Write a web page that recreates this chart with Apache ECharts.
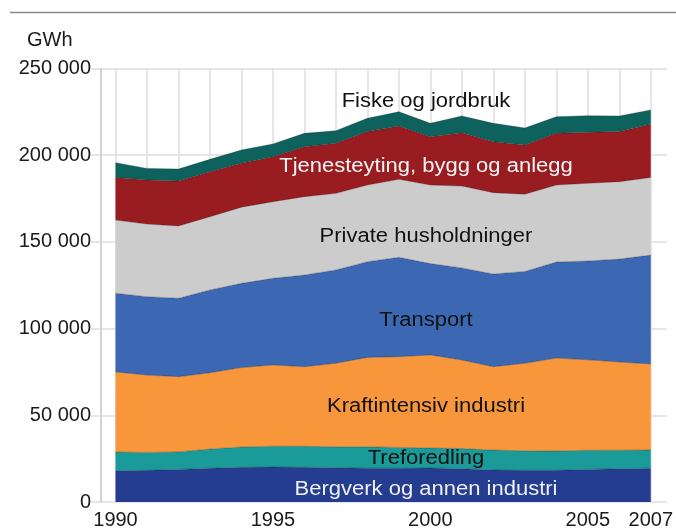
<!DOCTYPE html>
<html>
<head>
<meta charset="utf-8">
<script src="https://cdn.jsdelivr.net/npm/echarts@6/dist/echarts.min.js"></script>
<style>
  html, body { margin: 0; padding: 0; background: #fff; }
  #chart { width: 676px; height: 531px; }
</style>
</head>
<body>
<div id="chart"></div>
<script>
// Energibruk etter sektor, GWh, 1990-2007 (stacked area, bottom series first)
var years = ['1990', '1991', '1992', '1993', '1994', '1995', '1996', '1997', '1998',
    '1999', '2000', '2001', '2002', '2003', '2004', '2005', '2006', '2007'];
var shownYears = ['1990', '1995', '2000', '2005', '2007'];

var bergverk = [18000, 18300, 18800, 19500, 20000, 20200, 20000, 19800, 19500,
    19500, 19600, 19200, 18500, 18300, 18300, 18800, 19200, 19500];
var treforedling = [10800, 10300, 10100, 11000, 11700, 12000, 12100, 12000, 12300,
    12000, 11500, 11600, 11500, 11200, 11100, 11000, 10700, 10500];
var kraftintensiv = [46200, 44600, 43400, 44000, 45800, 46800, 45900, 48200, 51600,
    52300, 53700, 51100, 48000, 50500, 53600, 52200, 50800, 49600];
var transport = [45400, 45200, 45200, 47800, 48600, 50000, 52900, 53800, 55200,
    57300, 52700, 53100, 53500, 53000, 55400, 57000, 59400, 62800];
var husholdninger = [42200, 41900, 41700, 42200, 43900, 44200, 45200, 44200, 44200,
    45000, 45300, 47200, 46900, 44500, 44400, 44800, 44600, 44800];
var tjenesteyting = [24600, 25400, 25900, 26000, 25300, 25900, 28800, 28900, 30800,
    30700, 27900, 30800, 29400, 28400, 29800, 29400, 28900, 30600];
var fiske = [8500, 6700, 6900, 7100, 7700, 7400, 7700, 7200, 7700,
    8300, 7700, 9600, 10600, 9800, 9600, 9600, 9000, 8300];

var yTicks = [0, 50000, 100000, 150000, 200000, 250000];

(function () {
    var chart = echarts.init(document.getElementById('chart'), null, { renderer: 'canvas' });
    var FONT = 'Liberation Sans, Arial, sans-serif';

    function fmt(v) {
        var s = String(v);
        var out = '';
        for (var i = s.length - 1, c = 0; i >= 0; i--, c++) {
            if (c > 0 && c % 3 === 0) out = ' ' + out;
            out = s.charAt(i) + out;
        }
        return out;
    }

    function area(name, data, color) {
        return {
            name: name,
            type: 'line',
            stack: 'total',
            xAxisIndex: 1,
            yAxisIndex: 1,
            data: data,
            showSymbol: false,
            symbol: 'none',
            silent: true,
            lineStyle: { width: 0.8, color: 'rgba(0,0,0,0.3)' },
            areaStyle: { color: color, opacity: 1 }
        };
    }

    // area labels are a bit wider in the original, stretch them slightly
    function label(text, y, color) {
        return {
            type: 'text',
            x: 426,
            y: y,
            z: 100,
            scaleX: 1.1,
            style: {
                text: text,
                fill: color,
                font: '20px ' + FONT,
                textAlign: 'center',
                textVerticalAlign: 'middle'
            }
        };
    }

    var top = 68.5, bottom = 29;

    var option = {
        animation: false,
        grid: [
            // frame grid: y axis, horizontal lines
            { left: 101, right: 9, top: top, bottom: bottom },
            // data grid: 1990..2007
            { left: 115.5, right: 25, top: top, bottom: bottom }
        ],
        xAxis: [
            { gridIndex: 0, type: 'value', min: 0, max: 1, show: false },
            {
                gridIndex: 1,
                type: 'category',
                data: years,
                boundaryGap: false,
                axisLine: { show: false },
                axisTick: { show: false },
                splitLine: { show: true, interval: 0, lineStyle: { color: '#dedede', width: 1.5 } },
                axisLabel: {
                    interval: 0,
                    margin: 8,
                    color: '#1a1a1a',
                    fontFamily: FONT,
                    fontSize: 20,
                    formatter: function (v) {
                        return shownYears.indexOf(v) >= 0 ? v : '';
                    }
                }
            }
        ],
        yAxis: [
            {
                gridIndex: 0,
                type: 'value',
                min: yTicks[0],
                max: yTicks[yTicks.length - 1],
                interval: 50000,
                axisLine: { show: true, lineStyle: { color: '#c4c4c4', width: 1.5 } },
                axisTick: { show: true, length: 10, lineStyle: { color: '#dedede', width: 1.5 } },
                splitLine: { show: true, lineStyle: { color: '#dedede', width: 1.5 } },
                axisLabel: {
                    margin: 10,
                    color: '#1a1a1a',
                    fontFamily: FONT,
                    fontSize: 20,
                    formatter: function (v) { return fmt(v); }
                }
            },
            {
                gridIndex: 1,
                type: 'value',
                min: yTicks[0],
                max: yTicks[yTicks.length - 1],
                show: false
            }
        ],
        series: [
            area('Bergverk og annen industri', bergverk, '#243d91'),
            area('Treforedling', treforedling, '#1a9a98'),
            area('Kraftintensiv industri', kraftintensiv, '#f7963b'),
            area('Transport', transport, '#3c67b2'),
            area('Private husholdninger', husholdninger, '#cccccc'),
            area('Tjenesteyting, bygg og anlegg', tjenesteyting, '#991c20'),
            area('Fiske og jordbruk', fiske, '#0e625e')
        ],
        graphic: [
            {
                type: 'line',
                shape: { x1: 10, y1: 12.5, x2: 676, y2: 12.5 },
                style: { stroke: '#8a8a8a', lineWidth: 1.5 }
            },
            {
                type: 'text',
                x: 27,
                y: 40,
                style: {
                    text: 'GWh',
                    fill: '#1a1a1a',
                    font: '20px ' + FONT,
                    textVerticalAlign: 'middle'
                }
            },
            label('Fiske og jordbruk', 101, '#111111'),
            label('Tjenesteyting, bygg og anlegg', 166, '#f4f4f4'),
            label('Private husholdninger', 236, '#111111'),
            label('Transport', 320, '#111111'),
            label('Kraftintensiv industri', 406, '#111111'),
            label('Treforedling', 458, '#111111'),
            label('Bergverk og annen industri', 489, '#f0f0f0')
        ]
    };

    chart.setOption(option);
})();
</script>
</body>
</html>
